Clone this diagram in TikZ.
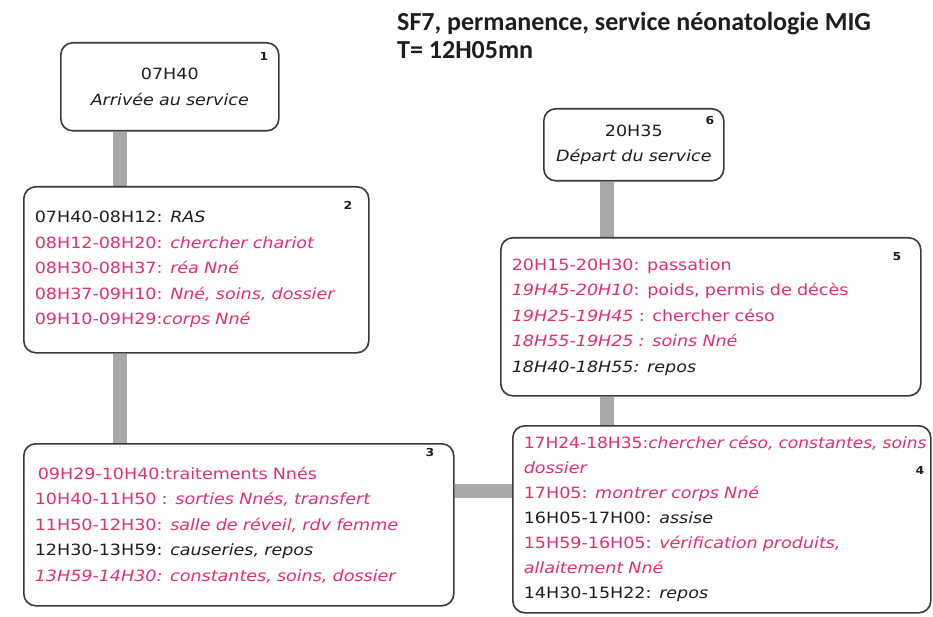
\documentclass[tikz,border=0pt]{standalone}
\usepackage{fontspec}
\setmainfont{DejaVu Sans}
\newfontfamily\bodyfont[FakeStretch=1.13]{DejaVu Sans}
\newfontfamily\headfont{Carlito}
\usetikzlibrary{backgrounds}

\definecolor{pinktxt}{HTML}{E0306E}
\definecolor{inktxt}{HTML}{1E1E1E}
\definecolor{linkgray}{HTML}{A8A8A8}
\definecolor{framegray}{HTML}{3A3A3A}

% pink (activity) and black (rest) entries
\newcommand{\pk}[1]{{\color{pinktxt}#1}}
\newcommand{\bk}[1]{{\color{inktxt}#1}}

\tikzset{
  stage/.style={draw=framegray, line width=1.6pt, rounded corners=12pt,
    fill=white, anchor=north west, inner xsep=11pt, inner ysep=0pt,
    font=\bodyfont\fontsize{15.5}{25.5}\selectfont, text=inktxt},
  stagelist/.style 2 args={stage, align=left, text width=#1-22pt,
    minimum width=#1, minimum height=#2},
  stageend/.style 2 args={stage, align=center, text width=#1-22pt,
    minimum width=#1, minimum height=#2},
  tag/.style={font=\bodyfont\bfseries\fontsize{11}{12}\selectfont,
    text=inktxt, inner sep=0pt},
  heading/.style={font=\headfont\bfseries\fontsize{26}{29}\selectfont,
    text=inktxt, inner sep=0pt, anchor=base west},
  link/.style={draw=linkgray, line width=14pt},
}

\begin{document}
\begin{tikzpicture}[x=1pt, y=-1pt]
\useasboundingbox (0,0) rectangle (933,617);

% title
\node[heading] (title1) at (397,31) {SF7, permanence, service néonatologie MIG};
\node[heading] (title2) at (397,59) {T= 12H05mn};

% stages of the shift
\node[stageend={218pt}{88pt}] (b1) at (60,42)
  {07H40\\\textit{Arrivée au service}};

\node[stagelist={345pt}{166pt}] (b2) at (23,186)
  {\bk{07H40-08H12: \textit{RAS}}\\
   \pk{08H12-08H20: \textit{chercher chariot}}\\
   \pk{08H30-08H37: \textit{réa Nné}}\\
   \pk{08H37-09H10: \textit{Nné, soins, dossier}}\\
   \pk{09H10-09H29:\textit{corps Nné}}};

\node[stagelist={430pt}{162pt}] (b3) at (23,443)
  {\pk{\hspace{3pt}09H29-10H40:traitements Nnés}\\
   \pk{10H40-11H50 : \textit{sorties Nnés, transfert}}\\
   \pk{11H50-12H30: \textit{salle de réveil, rdv femme}}\\
   \bk{12H30-13H59: \textit{causeries, repos}}\\
   \pk{\textit{13H59-14H30: constantes, soins, dossier}}};

\node[stagelist={418pt}{187pt}, inner xsep=9pt,
      font=\bodyfont\fontsize{15.5}{25}\selectfont] (b4) at (512,425)
  {\pk{\scalebox{0.975}[1]{17H24-18H35:\textit{chercher céso, constantes, soins}}}\\
   \pk{\textit{dossier}}\\
   \pk{17H05: \textit{montrer corps Nné}}\\
   \bk{16H05-17H00: \textit{assise}}\\
   \pk{15H59-16H05: \textit{vérification produits,}}\\
   \pk{\textit{allaitement Nné}}\\
   \bk{14H30-15H22: \textit{repos}}};

\node[stagelist={420pt}{158pt}] (b5) at (500,237)
  {\pk{20H15-20H30: passation}\\
   \pk{\textit{19H45-20H10}: poids, permis de décès}\\
   \pk{\textit{19H25-19H45} : chercher céso}\\
   \pk{\textit{18H55-19H25 : soins Nné}}\\
   \bk{\textit{18H40-18H55: repos}}};

\node[stageend={180pt}{72pt}] (b6) at (543,108)
  {20H35\\\textit{Départ du service}};

% stage numbers
\node[tag] (n1) at (264,56) {1};
\node[tag] (n2) at (348,205) {2};
\node[tag] (n3) at (430,452) {3};
\node[tag] (n4) at (920,470) {4};
\node[tag] (n5) at (897,257) {5};
\node[tag] (n6) at (710,121) {6};

% grey links between consecutive stages
\begin{scope}[on background layer]
  \fill[white] (0,0) rectangle (933,617);
  \draw[link] ([xshift=60pt]b1.south west) -- ([xshift=60pt]b1.south west |- b2.north);
  \draw[link] ([xshift=97pt]b2.south west) -- ([xshift=97pt]b2.south west |- b3.north);
  \draw[link] ([yshift=34pt]b3.east) -- ([yshift=34pt]b3.east -| b4.west);
  \draw[link] ([xshift=107pt]b5.south west) -- ([xshift=107pt]b5.south west |- b4.north);
  \draw[link] ([xshift=64pt]b6.south west) -- ([xshift=64pt]b6.south west |- b5.north);
\end{scope}
\end{tikzpicture}
\end{document}
